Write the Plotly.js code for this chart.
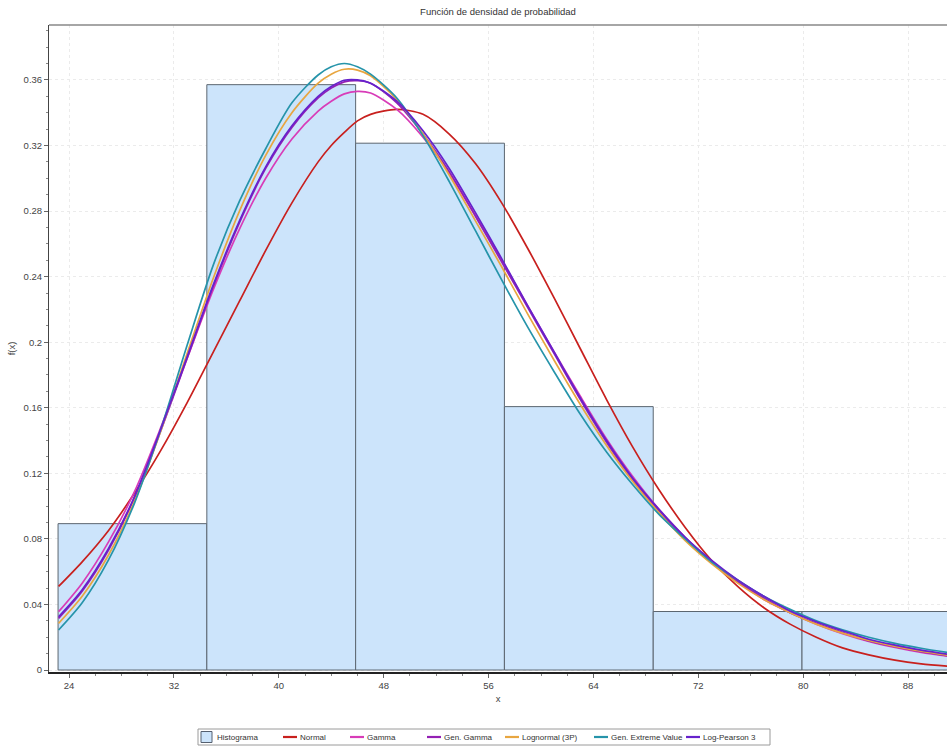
<!DOCTYPE html>
<html>
<head>
<meta charset="utf-8">
<script src="https://cdn.plot.ly/plotly-3.0.1.min.js"></script>
<style>
  html, body { margin: 0; padding: 0; background: #ffffff; }
  #chart { width: 947px; height: 747px; }
</style>
</head>
<body>
<div id="chart"></div>
<script>
// ---- Data ----
const binLeft = [23.16, 34.51, 45.86, 57.21, 68.56, 79.91];
const binWidth = 11.35;
const histY = [0.0893, 0.3571, 0.3214, 0.1607, 0.0357, 0.0357];

const xGrid = [23.2, 25, 27, 29, 31, 33, 35, 37, 39, 41, 43, 44, 45, 46, 47, 49, 51, 53, 55, 57,
               59, 61, 63, 65, 67, 69, 71, 73, 75, 77, 79, 81, 83, 85, 87, 89, 91.2];

const normalY = [0.051, 0.066, 0.085, 0.108, 0.134, 0.163, 0.194, 0.225, 0.256, 0.285, 0.310, 0.320, 0.328, 0.335, 0.339, 0.342, 0.339, 0.327, 0.309, 0.285,
                 0.257, 0.227, 0.196, 0.165, 0.136, 0.110, 0.087, 0.067, 0.051, 0.038, 0.028, 0.020, 0.0135, 0.0092, 0.006, 0.0038, 0.0023];

const gammaY = [0.0356, 0.053, 0.078, 0.109, 0.148, 0.190, 0.232, 0.269, 0.300, 0.324, 0.341, 0.347, 0.3515, 0.353, 0.352, 0.342, 0.325, 0.303, 0.277, 0.250,
                0.222, 0.194, 0.167, 0.141, 0.118, 0.098, 0.081, 0.066, 0.054, 0.043, 0.035, 0.028, 0.0222, 0.0175, 0.0138, 0.0108, 0.0082];

const genGammaY = [0.0315, 0.048, 0.073, 0.105, 0.146, 0.190, 0.234, 0.273, 0.306, 0.331, 0.349, 0.355, 0.3588, 0.3595, 0.358, 0.346, 0.327, 0.304, 0.277, 0.249,
                   0.221, 0.193, 0.165, 0.139, 0.116, 0.097, 0.080, 0.066, 0.054, 0.044, 0.035, 0.0285, 0.023, 0.0178, 0.0142, 0.0112, 0.0085];

const lognormal3PY = [0.0285, 0.045, 0.070, 0.103, 0.146, 0.193, 0.239, 0.280, 0.314, 0.340, 0.358, 0.3635, 0.3665, 0.366, 0.3625, 0.348, 0.327, 0.302, 0.274, 0.246,
                      0.217, 0.189, 0.162, 0.137, 0.115, 0.096, 0.079, 0.065, 0.053, 0.043, 0.035, 0.028, 0.0225, 0.018, 0.0144, 0.0115, 0.0088];

const gevY = [0.0244, 0.041, 0.067, 0.102, 0.147, 0.198, 0.247, 0.286, 0.318, 0.346, 0.363, 0.368, 0.370, 0.368, 0.3635, 0.349, 0.326, 0.298, 0.268, 0.238,
              0.209, 0.182, 0.156, 0.133, 0.113, 0.095, 0.080, 0.066, 0.055, 0.045, 0.037, 0.030, 0.0245, 0.020, 0.0163, 0.0133, 0.0105];

const logPearson3Y = [0.0325, 0.049, 0.074, 0.106, 0.147, 0.191, 0.235, 0.274, 0.307, 0.332, 0.350, 0.356, 0.3598, 0.360, 0.358, 0.347, 0.329, 0.306, 0.279, 0.251,
                      0.222, 0.194, 0.166, 0.140, 0.117, 0.098, 0.081, 0.067, 0.055, 0.045, 0.036, 0.0295, 0.024, 0.0188, 0.0152, 0.0121, 0.0094];

const histName = "Histograma";
const seriesNames = ["Normal", "Gamma", "Gen. Gamma", "Lognormal (3P)", "Gen. Extreme Value", "Log-Pearson 3"];
const seriesY = [normalY, gammaY, genGammaY, lognormal3PY, gevY, logPearson3Y];
const seriesColors = ["#c8201e", "#d83cb8", "#9420b4", "#e8a640", "#2694aa", "#6622cc"];

// ---- Style / geometry ----
const FONT = "Liberation Sans, Arial, sans-serif";
const W = 947, H = 747;
const M = { l: 49, r: 0, t: 25, b: 75 };
const plotW = W - M.l - M.r, plotH = H - M.t - M.b;
const px2paperX = px => (px - M.l) / plotW;
const px2paperY = py => (H - M.b - py) / plotH;

const HIST_FILL = "#cce4fb", HIST_LINE = "#5c6670";

// ---- Traces ----
const binCenters = binLeft.map(v => v + binWidth / 2);
const traces = [{
  type: "bar",
  name: histName,
  x: binCenters,
  y: histY,
  width: binLeft.map(() => binWidth),
  marker: { color: HIST_FILL, line: { color: HIST_LINE, width: 1 } },
  hoverinfo: "skip"
}];
seriesNames.forEach((n, i) => {
  traces.push({
    type: "scatter",
    mode: "lines",
    name: n,
    x: xGrid,
    y: seriesY[i],
    line: { color: seriesColors[i], width: 1.7, shape: "spline", smoothing: 0.8 },
    hoverinfo: "skip"
  });
});

// ---- Custom compact legend (box, swatches, labels) ----
const legendBox = { x0: 198, x1: 770, y0: 729, y1: 745 };
const legendMidY = (legendBox.y0 + legendBox.y1) / 2;
const legendSwatchX = [201, 283, 350, 427, 505, 594, 686]; // left of each swatch (px)
const shapes = [
  { type: "line", xref: "paper", yref: "paper", x0: 0, x1: 1, y0: 1, y1: 1,
    line: { color: "#888888", width: 1.5 } },
  { type: "rect", xref: "paper", yref: "paper",
    x0: px2paperX(legendBox.x0), x1: px2paperX(legendBox.x1),
    y0: px2paperY(legendBox.y1), y1: px2paperY(legendBox.y0),
    fillcolor: "#ffffff", line: { color: "#9a9a9a", width: 1 } },
  { type: "rect", xref: "paper", yref: "paper",
    x0: px2paperX(legendSwatchX[0]), x1: px2paperX(legendSwatchX[0] + 11),
    y0: px2paperY(legendMidY + 5.5), y1: px2paperY(legendMidY - 5.5),
    fillcolor: HIST_FILL, line: { color: "#556070", width: 1 } }
];
const annotations = [{
  text: histName, xref: "paper", yref: "paper",
  x: px2paperX(legendSwatchX[0] + 14), y: px2paperY(legendMidY),
  xanchor: "left", yanchor: "middle", showarrow: false,
  font: { family: FONT, size: 8, color: "#333333" }
}];
seriesNames.forEach((n, i) => {
  const sx = legendSwatchX[i + 1];
  shapes.push({ type: "line", xref: "paper", yref: "paper",
    x0: px2paperX(sx), x1: px2paperX(sx + 14),
    y0: px2paperY(legendMidY), y1: px2paperY(legendMidY),
    line: { color: seriesColors[i], width: 2.2 } });
  annotations.push({
    text: n, xref: "paper", yref: "paper",
    x: px2paperX(sx + 15), y: px2paperY(legendMidY),
    xanchor: "left", yanchor: "middle", showarrow: false,
    font: { family: FONT, size: 8, color: "#333333" }
  });
});

const layout = {
  width: W,
  height: H,
  margin: M,
  paper_bgcolor: "#ffffff",
  plot_bgcolor: "#ffffff",
  bargap: 0,
  showlegend: false,
  font: { family: FONT, size: 9.5, color: "#444444" },
  title: {
    text: "Función de densidad de probabilidad",
    font: { family: FONT, size: 9.5, color: "#333333" },
    x: 0.5, xref: "paper", xanchor: "center",
    y: 1 - 12 / H, yref: "container", yanchor: "middle"
  },
  xaxis: {
    range: [22.47, 90.97],
    tickmode: "linear", tick0: 24, dtick: 8,
    ticks: "outside", ticklen: 4, tickcolor: "#666666",
    minor: { dtick: 2, ticklen: 2, tickcolor: "#888888", showgrid: false },
    showgrid: true, gridcolor: "#ebebeb", griddash: "dot", gridwidth: 1,
    zeroline: false,
    showline: true, linecolor: "#222222", linewidth: 2,
    tickfont: { family: FONT, size: 9.5, color: "#444444" },
    title: { text: "x", font: { family: FONT, size: 9.5, color: "#444444" }, standoff: 5 },
    automargin: false
  },
  yaxis: {
    range: [-0.0012, 0.3935],
    tickmode: "linear", tick0: 0, dtick: 0.04,
    ticks: "outside", ticklen: 4, tickcolor: "#666666",
    minor: { dtick: 0.01, ticklen: 2, tickcolor: "#888888", showgrid: false },
    showgrid: true, gridcolor: "#ebebeb", griddash: "dot", gridwidth: 1,
    zeroline: false,
    showline: true, linecolor: "#444444", linewidth: 1,
    tickfont: { family: FONT, size: 9.5, color: "#444444" },
    title: { text: "f(x)", font: { family: FONT, size: 9.5, color: "#444444" }, standoff: 6 },
    automargin: false
  },
  shapes: shapes,
  annotations: annotations
};

Plotly.newPlot("chart", traces, layout, { staticPlot: true, displayModeBar: false });
</script>
</body>
</html>
